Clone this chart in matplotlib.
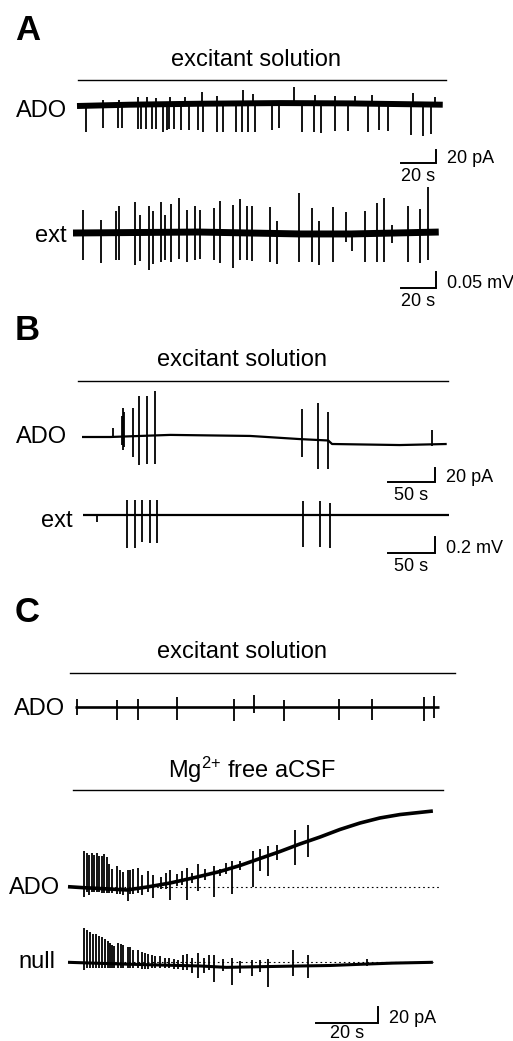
import numpy as np
import matplotlib
matplotlib.use("Agg")
import matplotlib.pyplot as plt
from matplotlib import transforms

plt.rcParams['font.family'] = ['Liberation Sans', 'DejaVu Sans']
plt.rcParams['mathtext.default'] = 'regular'

W, H = 513, 1041

# ---------------- panel A : spontaneous activity (s, pA / mV) ----------------
ado_a_base_t = [0, 30, 70, 116, 156, 209]
ado_a_base = [0, 2, 3.5, 4.5, 4, 2]
ado_a_spk_t = [5.0, 15.0, 23.6, 25.5, 34.7, 36.6, 39.4, 42.7, 45.1, 49.0, 51.3, 52.6,
               55.4, 59.4, 64.0, 69.0, 72.2, 79.8, 83.3, 90.7, 94.1, 97.9, 101.7, 111.6,
               115.6, 128.4, 135.6, 139.4, 147.4, 155.0, 166.5, 172.6, 177.5, 190.9, 197.9, 202.3]
ado_a_spk_dn = [40, 35, 36, 36, 38, 38, 38, 38, 38, 42, 39, 39, 39, 40, 40, 40, 43, 43,
                44, 44, 44, 44, 44, 42, 39, 44, 45, 45, 43, 43, 44, 41, 41, 47, 48, 45]
ado_a_bump_t = [14.9, 24.0, 34.9, 40.0, 45.1, 53.1, 61.7, 71.4, 80.0, 94.9, 100.6, 124.0,
                136.0, 147.4, 158.9, 168.6, 192.0, 204.6]
ado_a_bump_up = [8, 8, 11, 12, 9, 11, 11, 18, 11, 20, 15, 25, 12, 12, 11, 14, 18, 12]

ext_a_base_t = [0, 72, 130, 159, 209]
ext_a_base = [0, 0.003, -0.003, -0.003, 0.003]
ext_a_spk_t = [5.9, 16.0, 24.4, 26.5, 35.4, 38.3, 43.6, 45.9, 50.1, 52.6, 56.0, 60.6,
               65.3, 69.7, 72.6, 80.7, 84.0, 91.6, 95.4, 99.3, 102.1, 112.6, 116.7, 129.3,
               136.6, 140.6, 148.6, 156.0, 159.3, 167.0, 173.5, 177.7, 182.1, 191.4, 198.5, 203.0]
ext_a_spk_up = [0.072, 0.041, 0.069, 0.084, 0.094, 0.056, 0.081, 0.066, 0.094, 0.053, 0.088, 0.106,
                0.069, 0.081, 0.069, 0.075, 0.097, 0.088, 0.106, 0.084, 0.084, 0.084, 0.038, 0.128,
                0.081, 0.041, 0.084, 0.069, 0.009, 0.072, 0.094, 0.109, 0.025, 0.084, 0.072, 0.141]
ext_a_spk_dn = [0.084, 0.094, 0.084, 0.084, 0.100, 0.088, 0.116, 0.100, 0.094, 0.088, 0.094, 0.084,
                0.094, 0.088, 0.084, 0.088, 0.094, 0.109, 0.084, 0.084, 0.088, 0.088, 0.094, 0.088,
                0.088, 0.097, 0.088, 0.025, 0.053, 0.088, 0.088, 0.091, 0.031, 0.091, 0.094, 0.088]

# ---------------- panel B : bursts ----------------
ado_b_base_t = [0, 30, 94, 179, 232, 262, 266, 338, 388]
ado_b_base = [0, 0, 3, 1.5, -3, -5, -10, -11.5, -10]
ado_b_spk_t = [33.0, 42.5, 43.6, 44.5, 54.3, 60.6, 69.1, 77.7, 234.0, 251.1, 261.7, 372.3]
ado_b_spk_up = [13, 30, 41, 35, 41, 57, 57, 63, 43, 53, 41, 20]
ado_b_spk_dn = [2, 12, 19, 15, 30, 41, 41, 41, 26, 41, 41, 2]

ext_b_base_t = [0, 389]
ext_b_base = [0, 0]
ext_b_spk_t = [14.9, 46.8, 55.3, 62.8, 71.3, 78.7, 234.0, 252.1, 262.8]
ext_b_spk_up = [0.01, 0.19, 0.19, 0.19, 0.19, 0.19, 0.18, 0.17, 0.15]
ext_b_spk_dn = [0.09, 0.41, 0.41, 0.34, 0.35, 0.35, 0.40, 0.40, 0.41]

# ---------------- panel C : excitant vs Mg2+ free ----------------
ado_c1_base_t = [0, 117.4]
ado_c1_base = [0, 0]
ado_c1_spk_t = [0.5, 13.7, 20.2, 33.0, 51.4, 57.7, 67.5, 85.2, 95.9, 112.7, 115.9]
ado_c1_spk_up = [10, 9, 10, 12.5, 10, 15, 9, 10, 10, 12.5, 14]
ado_c1_spk_dn = [10, 16, 16, 16, 17.5, 7.5, 17.5, 16, 16, 17.5, 14]

ado_c2_base_t = [0, 4.8, 13.5, 19.0, 25.5, 32.9, 40.3, 49.0, 55.5, 61.9, 68.4, 74.8,
                 81.3, 87.7, 94.2, 100.6, 107.1, 117.7]
ado_c2_base = [0, -1.2, -2.9, -4.1, -0.4, 4.6, 10.9, 19.0, 26.5, 35.2, 44.0, 53.4,
               62.1, 71.5, 79.6, 85.9, 90.2, 94.6]
ado_c2_spk_t = [5.2, 6.0, 6.9, 7.6, 8.5, 9.3, 10.1, 10.9, 11.7, 12.5, 13.3, 14.1, 15.9, 16.8,
                17.8, 19.3, 20.0, 21.1, 22.5, 23.8, 25.9, 27.5, 30.0, 31.6, 32.9, 35.1, 36.7,
                38.3, 39.9, 41.8, 44.2, 47.2, 49.0, 50.9, 52.8, 55.5, 59.6, 61.9, 64.6, 67.3,
                73.2, 77.5]
ado_c2_spk_up = [46, 44, 41, 44, 41, 44, 40, 41, 44, 40, 31, 25, 29, 25, 22, 25, 25, 25, 26,
                 16, 20, 14, 10, 14, 16, 9, 12, 14, 6, 16, 8, 9, 3, 8, 9, 6, 12, 12, 12, 9, 20, 20]
ado_c2_spk_dn = [11, 5, 9, 5, 5, 5, 5, 5, 5, 5, 5, 5, 6, 6, 6, 14, 6, 6, 6, 9, 6, 15, 6, 6,
                 21, 6, 6, 26, 6, 18, 6, 30, 5, 5, 32, 5, 32, 15, 26, 9, 24, 20]

null_base_t = [0, 3.9, 16.8, 29.7, 42.6, 51.0, 61.9, 74.8, 84.5, 94.2, 104.8, 117.7]
null_base = [0, -0.5, -2.1, -3.4, -4.6, -6.3, -5.5, -4.6, -4.0, -2.5, -1.0, 0]
null_spk_t = [5.2, 6.2, 7.1, 8.2, 9.0, 10.1, 10.9, 11.9, 12.8, 13.5, 14.3, 14.9, 16.2, 17.1,
              17.8, 19.3, 20.0, 21.1, 22.5, 23.8, 24.8, 25.9, 27.0, 28.1, 29.7, 31.3, 32.7,
              34.2, 35.6, 37.2, 38.3, 39.9, 41.8, 44.0, 45.6, 47.2, 50.1, 52.8, 55.5, 59.2,
              61.9, 64.6, 72.7, 77.5, 96.4]
null_spk_up = [43, 41, 39, 37, 36, 34, 33, 31, 28, 26, 24, 22, 26, 25, 24, 22, 21, 18, 18, 16,
               14, 14, 12, 11, 11, 9, 9, 8, 7, 13, 14, 10, 16, 10, 14, 15, 10, 11, 7, 9, 8, 9,
               20, 14, 6]
null_spk_dn = [9, 6, 6, 6, 6, 6, 6, 6, 6, 6, 5, 5, 5, 5, 5, 5, 5, 5, 5, 5, 5, 5, 4, 4, 4, 4,
               4, 4, 4, 6, 5, 9, 15, 9, 5, 19, 5, 22, 8, 12, 6, 25, 13, 15, 2]

fig = plt.figure(figsize=(W / 100, H / 100), dpi=100, facecolor='white')


def trace_axes(x0, pps, y0, ppu, top, bottom):
    # one transparent axes per trace, mapped so that pps px = 1 s, ppu px = 1 unit
    ax = fig.add_axes([0, 1 - bottom / H, 1, (bottom - top) / H])
    ax.set_xlim(-x0 / pps, (W - x0) / pps)
    ax.set_ylim((y0 - bottom) / ppu, (y0 - top) / ppu)
    ax.axis('off')
    return ax


def trace(ax, bt, bv, st, up, dn, lw):
    ax.plot(bt, bv, color='k', lw=lw, solid_capstyle='butt', zorder=3)
    b = np.interp(st, bt, bv)
    ax.vlines(st, b - np.asarray(dn), b + np.asarray(up), color='k', lw=1.3, zorder=3)


def scale_bar(ax, t_end, y, dt, dy, t_lab, y_lab, t_off=-18):
    ax.plot([t_end - dt, t_end, t_end], [y, y, y + dy], color='k', lw=1.4,
            solid_joinstyle='miter', clip_on=False)
    ax.annotate(y_lab, (t_end, y), xytext=(11, 0), textcoords='offset pixels',
                ha='left', va='baseline', fontsize=13)
    ax.annotate(t_lab, (t_end - dt / 2, y), xytext=(0, t_off), textcoords='offset pixels',
                ha='center', va='baseline', fontsize=13)


def solution(ax, t0, t1, y_px, label, tx_px, ty_px):
    tr = transforms.blended_transform_factory(ax.transData, fig.transFigure)
    ax.plot([t0, t1], [1 - y_px / H] * 2, transform=tr, color='k', lw=1.0, clip_on=False)
    fig.text(tx_px / W, 1 - ty_px / H, label, ha='center', va='baseline', fontsize=17)


def name(label, x_px, y_px):
    fig.text(x_px / W, 1 - y_px / H, label, ha='right', va='baseline', fontsize=17)


def letter(label, y_px):
    fig.text(15 / W, 1 - y_px / H, label, ha='left', va='baseline', fontsize=25,
             fontweight='bold')


# A
letter('A', 40)
ax = trace_axes(77, 1.75, 106, 0.65, 85, 190)
trace(ax, ado_a_base_t, ado_a_base, ado_a_spk_t, np.zeros(len(ado_a_spk_t)), ado_a_spk_dn, 4.3)
bump_b = np.interp(ado_a_bump_t, ado_a_base_t, ado_a_base)
ax.vlines(ado_a_bump_t, bump_b, bump_b + np.asarray(ado_a_bump_up), color='k', lw=1.3)
scale_bar(ax, 205.1, -87.7, 20, 20, '20 s', '20 pA')
solution(ax, 0.5, 211, 80, 'excitant solution', 256, 66)
name('ADO', 67, 117)

ax = trace_axes(73, 1.75, 233, 320, 185, 310)
trace(ax, ext_a_base_t, ext_a_base, ext_a_spk_t, ext_a_spk_up, ext_a_spk_dn, 5.0)
scale_bar(ax, 207.4, -0.172, 20, 0.05, '20 s', '0.05 mV')
name('ext', 67, 242)

# B
letter('B', 340)
ax = trace_axes(82, 0.94, 437, 0.7, 385, 505)
trace(ax, ado_b_base_t, ado_b_base, ado_b_spk_t, ado_b_spk_up, ado_b_spk_dn, 1.6)
scale_bar(ax, 375.5, -64.3, 50, 20, '50 s', '20 pA')
solution(ax, -4, 389, 381, 'excitant solution', 242, 366)
name('ADO', 67, 443)

ax = trace_axes(83, 0.94, 515, 80, 495, 580)
trace(ax, ext_b_base_t, ext_b_base, ext_b_spk_t, ext_b_spk_up, ext_b_spk_dn, 1.6)
scale_bar(ax, 374.5, -0.475, 50, 0.2, '50 s', '0.2 mV')
name('ext', 73, 527)

# C
letter('C', 622)
ax = trace_axes(75, 3.1, 707, 0.8, 690, 730)
trace(ax, ado_c1_base_t, ado_c1_base, ado_c1_spk_t, ado_c1_spk_up, ado_c1_spk_dn, 1.9)
solution(ax, -1.6, 122.6, 673, 'excitant solution', 242, 658)
name('ADO', 65, 715)

ax = trace_axes(68, 3.1, 886.7, 0.8, 800, 910)
ax.plot([0, 119.7], [0, 0], color='k', lw=0.8, dashes=(1.5, 2.7), zorder=1)
trace(ax, ado_c2_base_t, ado_c2_base, ado_c2_spk_t, ado_c2_spk_up, ado_c2_spk_dn, 2.6)
solution(ax, 1.6, 121, 790, 'Mg$^{2{+}}$ free aCSF', 252, 778)
name('ADO', 60, 894)

ax = trace_axes(68, 3.1, 962.3, 0.8, 920, 1041)
ax.plot([0, 117.7], [0, 0], color='k', lw=0.8, dashes=(1.5, 2.7), zorder=1)
trace(ax, null_base_t, null_base, null_spk_t, null_spk_up, null_spk_dn, 2.2)
scale_bar(ax, 100, -75.9, 20, 20, '20 s', '20 pA', t_off=-15)
name('null', 55, 968)

fig.savefig('out.png', dpi=100, facecolor='white')
